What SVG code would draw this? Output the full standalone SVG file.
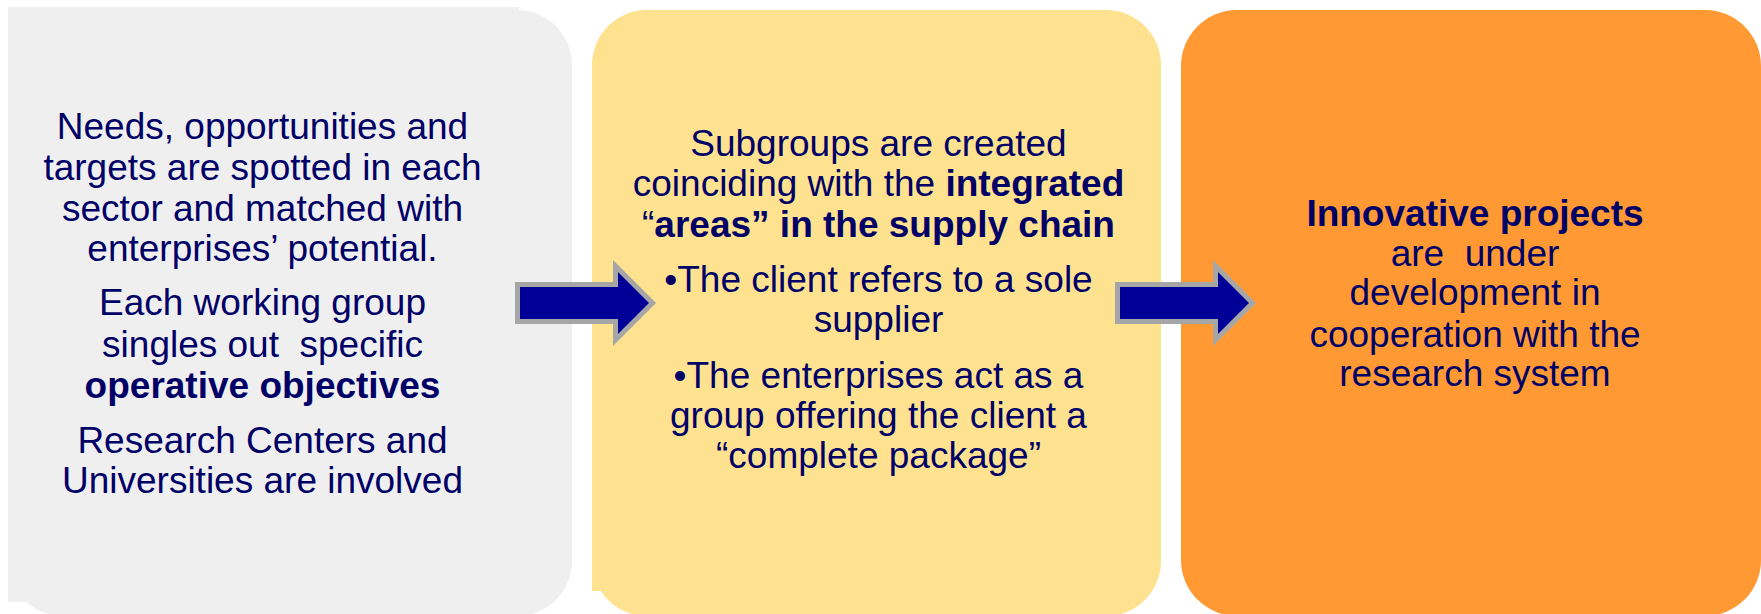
<svg xmlns="http://www.w3.org/2000/svg" width="1761" height="614" viewBox="0 0 1761 614">
<style>
text{font-family:"Liberation Sans",Arial,sans-serif;fill:#000066;text-anchor:middle;font-size:37px}
.b{font-weight:bold}
.arrow{fill:#000099;stroke:#A6A6A6;stroke-width:5;stroke-linejoin:miter;stroke-miterlimit:10}
</style>
<rect width="1761" height="614" fill="#ffffff"/>
<g id="node-needs">
<rect x="8" y="10" width="564" height="606" rx="55" fill="#EFEFEF"/>
<rect x="8" y="7" width="511" height="595" fill="#EFEFEF"/>
<text x="262.5" y="139">Needs, opportunities and</text>
<text x="262.5" y="180">targets are spotted in each</text>
<text x="262.5" y="220.5">sector and matched with</text>
<text x="262.5" y="260.5">enterprises’ potential.</text>
<text x="262.5" y="315">Each working group</text>
<text x="262.5" y="357" xml:space="preserve">singles out  specific</text>
<text class="b" x="262.5" y="397.5">operative objectives</text>
<text x="262.5" y="453">Research Centers and</text>
<text x="262.5" y="492.5">Universities are involved</text>
</g>
<g id="node-subgroups">
<rect x="592" y="10" width="569" height="606" rx="55" fill="#FEE28F"/>
<rect x="592" y="400" width="60" height="191" fill="#FEE28F"/>
<text x="878.5" y="156">Subgroups are created</text>
<text x="878.5" y="196">coinciding with the <tspan class="b">integrated</tspan></text>
<text x="878.5" y="237">“<tspan class="b">areas” in the supply chain</tspan></text>
<text x="878.5" y="292">•The client refers to a sole</text>
<text x="878.5" y="332">supplier</text>
<text x="878.5" y="388">•The enterprises act as a</text>
<text x="878.5" y="428">group offering the client a</text>
<text x="878.5" y="468">“complete package”</text>
</g>
<g id="node-innovative">
<rect x="1181" y="10" width="580" height="606" rx="56" fill="#FF9933"/>
<text class="b" x="1475" y="226">Innovative projects</text>
<text x="1475" y="266" xml:space="preserve">are  under</text>
<text x="1475" y="305">development in</text>
<text x="1475" y="347">cooperation with the</text>
<text x="1475" y="386">research system</text>
</g>
<g id="connectors">
<path class="arrow" d="M517.5,284.5 H615.5 V266 L652.5,303 L615.5,340 V321.5 H517.5 Z"/>
<path class="arrow" d="M1117.5,284.5 H1215.5 V266 L1252.5,303 L1215.5,340 V321.5 H1117.5 Z"/>
</g>
</svg>
